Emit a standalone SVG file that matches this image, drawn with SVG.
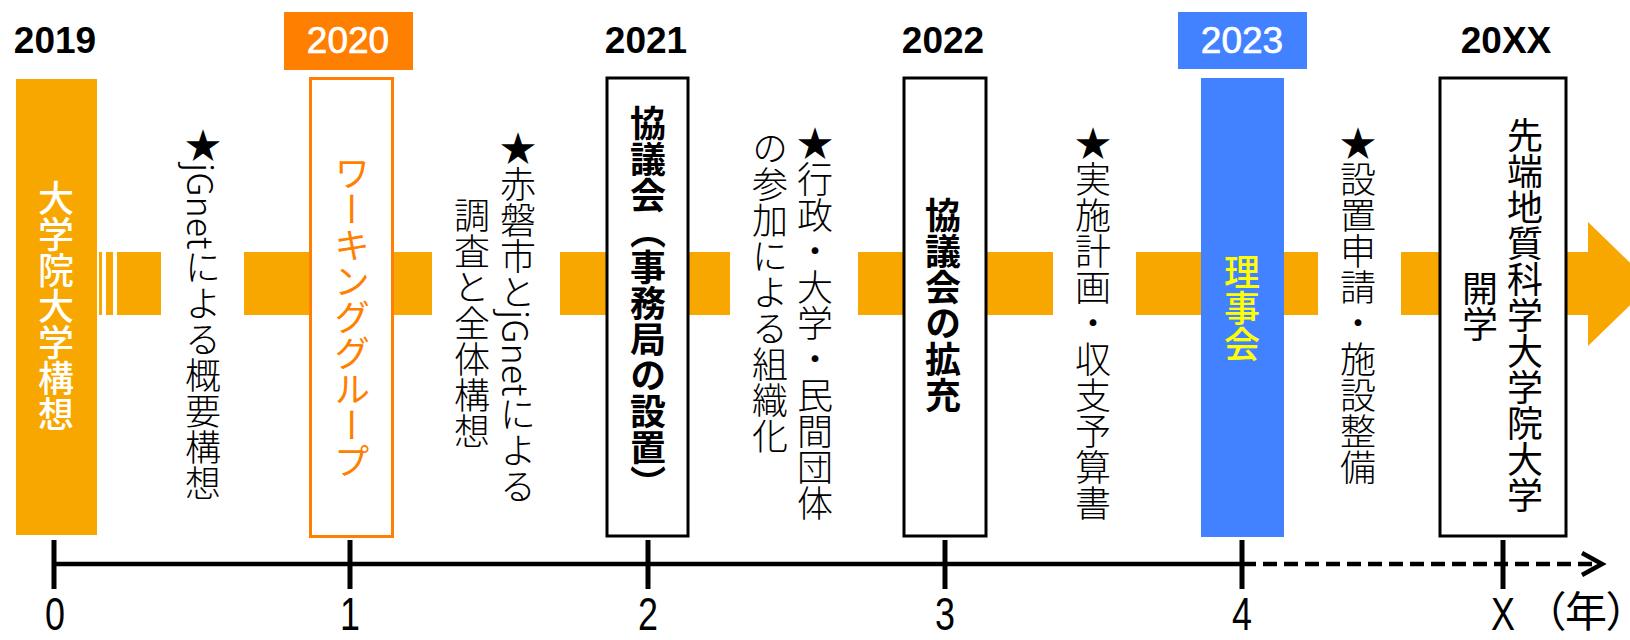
<svg xmlns="http://www.w3.org/2000/svg" width="1630" height="640" viewBox="0 0 1630 640">
<style>
.bar{fill:#F8A700}
.yr{font-family:"Liberation Sans",Arial,sans-serif;font-size:37px;font-weight:bold;text-anchor:middle;fill:#000}
.yrw{font-family:"Liberation Sans",Arial,sans-serif;font-size:37px;text-anchor:middle;fill:#fff;stroke:#fff;stroke-width:0.7}
.v{font-family:"Noto Sans CJK JP",sans-serif;font-size:36px;writing-mode:vertical-rl;fill:#000}
.thin{font-weight:300}
.bold{font-weight:bold}
.box{fill:#fff;stroke:#000;stroke-width:3}
.ax{stroke:#000;stroke-width:4.5;fill:none}
.tick{stroke:#000;stroke-width:5}
.num{font-family:"Liberation Sans",Arial,sans-serif;font-size:46px;text-anchor:middle;fill:#000}
</style>

<g id="flow-arrow">
<rect class="bar" x="99" y="252" width="3" height="63"/>
<rect class="bar" x="106" y="252" width="7" height="63"/>
<rect class="bar" x="117" y="252" width="44" height="63"/>
<rect class="bar" x="244" y="252" width="188" height="63"/>
<rect class="bar" x="560" y="252" width="170" height="63"/>
<rect class="bar" x="858" y="252" width="195" height="63"/>
<rect class="bar" x="1136" y="252" width="182" height="63"/>
<polygon class="bar" points="1401,252 1588,252 1588,222 1652,284 1588,346 1588,315 1401,315"/>
</g>

<g id="year-labels">
<text class="yr" x="55" y="53">2019</text>
<rect x="284" y="12" width="129" height="58" fill="#FF7F00"/>
<text class="yrw" x="348" y="53">2020</text>
<text class="yr" x="646" y="53">2021</text>
<text class="yr" x="943" y="53">2022</text>
<rect x="1178" y="12" width="129" height="57" fill="#4281FF"/>
<text class="yrw" x="1242" y="53">2023</text>
<text class="yr" x="1506" y="53">20XX</text>
</g>

<g id="node-2019">
<rect x="16" y="79" width="81" height="456" fill="#F8A700"/>
<text class="v" x="56" y="180" style="fill:#fff;font-weight:500">大学院大学構想</text>
</g>

<g id="note-2019">
<text class="v thin" x="203" y="127">★jGnetによる概要構想</text>
</g>

<g id="node-2020">
<rect x="310.5" y="78.5" width="82" height="458" fill="#fff" stroke="#FF7F00" stroke-width="3"/>
<text class="v" x="352" y="155" style="fill:#FF7F00">ワーキンググループ</text>
</g>

<g id="note-2020">
<text class="v thin" x="518" y="130">★赤磐市とjGnetによる</text>
<text class="v thin" x="472" y="197">調査と全体構想</text>
</g>

<g id="node-2021">
<rect class="box" x="607" y="78" width="81" height="458"/>
<text class="v bold" x="648" y="105">協議会（事務局の設置）</text>
</g>

<g id="note-2021">
<text class="v thin" x="815" y="125">★行政・大学・民間団体</text>
<text class="v thin" x="770" y="130">の参加による組織化</text>
</g>

<g id="node-2022">
<rect class="box" x="904" y="78" width="82" height="458"/>
<text class="v bold" x="943" y="197">協議会の拡充</text>
</g>

<g id="note-2022">
<text class="v thin" x="1093" y="125">★実施計画・収支予算書</text>
</g>

<g id="node-2023">
<rect x="1201" y="78" width="83" height="459" fill="#4281FF"/>
<text class="v" x="1242" y="254" style="fill:#FFFF00;font-weight:500">理事会</text>
</g>

<g id="note-2023">
<text class="v thin" x="1358" y="125">★設置申請・施設整備</text>
</g>

<g id="node-20XX">
<rect class="box" x="1440" y="78" width="126" height="458"/>
<text class="v" x="1525" y="117">先端地質科学大学院大学</text>
<text class="v" x="1480" y="270">開学</text>
</g>

<g id="connectors">
<line class="ax" x1="52" y1="564" x2="1242" y2="564"/>
<line class="ax" x1="1242" y1="564" x2="1598" y2="564" stroke-dasharray="14 7"/>
<polyline class="ax" points="1582,553 1602,564 1582,575"/>
<line class="tick" x1="54" y1="540" x2="54" y2="589"/>
<line class="tick" x1="350" y1="540" x2="350" y2="589"/>
<line class="tick" x1="648" y1="540" x2="648" y2="589"/>
<line class="tick" x1="945" y1="540" x2="945" y2="589"/>
<line class="tick" x1="1242" y1="540" x2="1242" y2="589"/>
<line class="tick" x1="1503" y1="540" x2="1503" y2="589"/>
</g>

<g id="axis-labels">
<text class="num" transform="translate(55,630) scale(0.78,1)">0</text>
<text class="num" transform="translate(350,630) scale(0.78,1)">1</text>
<text class="num" transform="translate(648,630) scale(0.78,1)">2</text>
<text class="num" transform="translate(945,630) scale(0.78,1)">3</text>
<text class="num" transform="translate(1242,630) scale(0.78,1)">4</text>
<text class="num" transform="translate(1503,630) scale(0.78,1)">X</text>
<text x="1586" y="627" style="font-family:'Noto Sans CJK JP',sans-serif;font-size:42px;text-anchor:middle;font-feature-settings:'palt'">（年）</text>
</g>
</svg>
